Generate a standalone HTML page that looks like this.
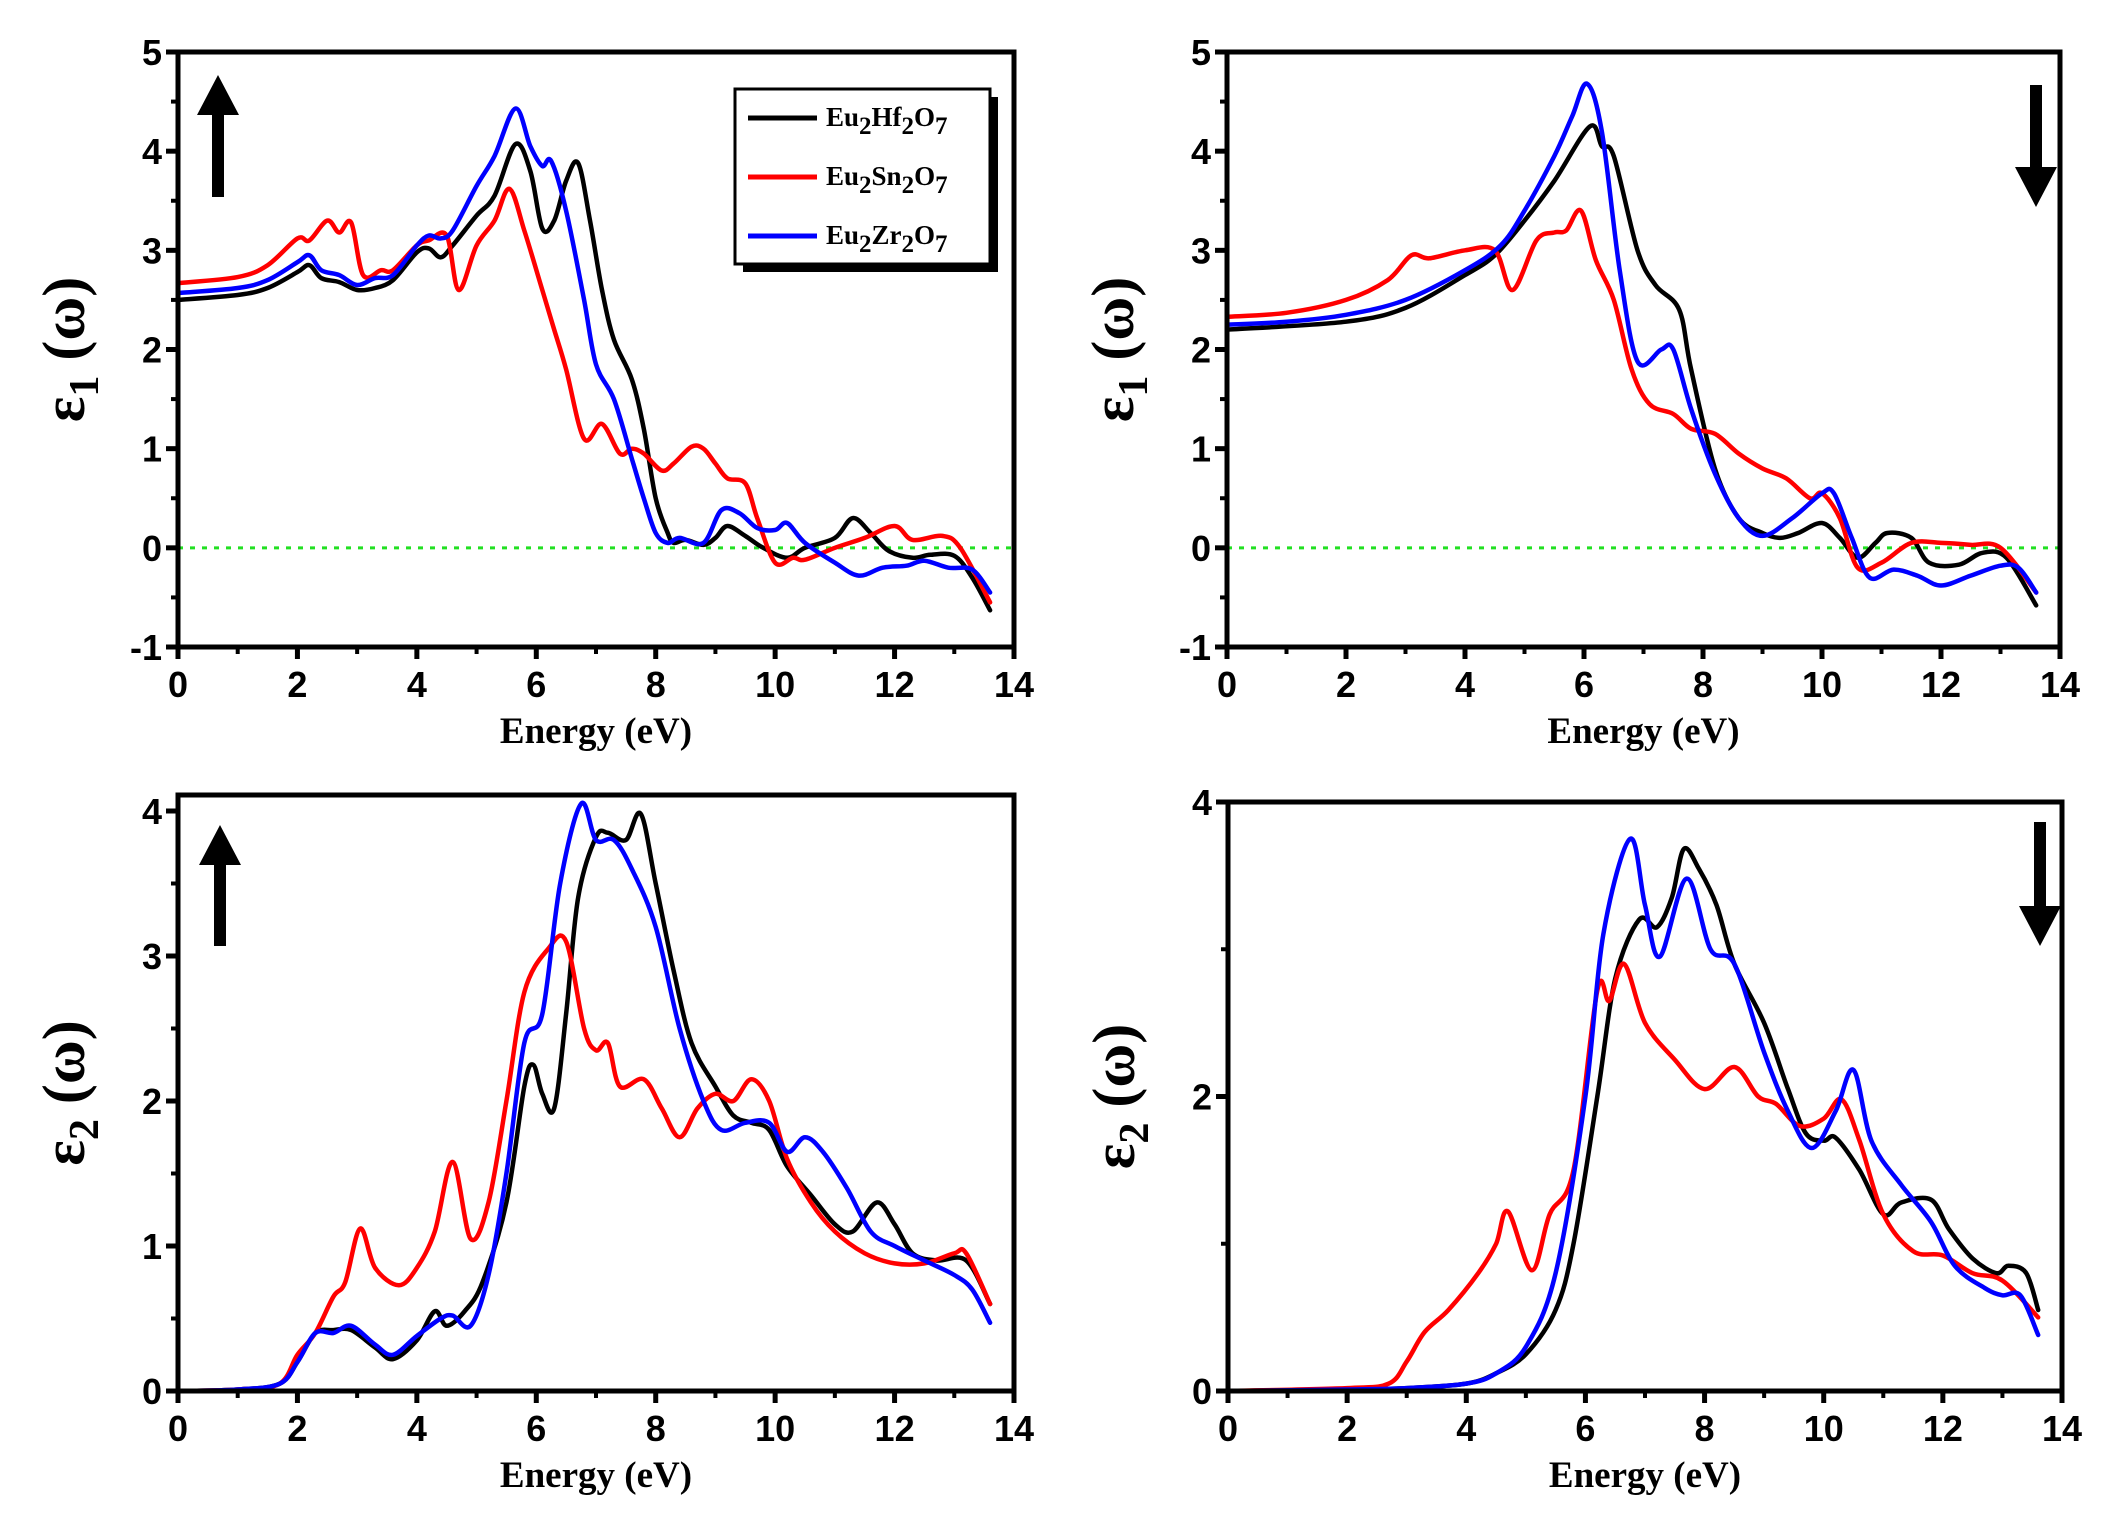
<!DOCTYPE html>
<html><head><meta charset="utf-8"><style>
html,body{margin:0;padding:0;background:#fff;}
svg{display:block;}
</style></head><body>
<svg id="fig" width="2125" height="1530" viewBox="0 0 2125 1530" xmlns="http://www.w3.org/2000/svg"></svg>
<script>
// ---- data (energy eV, value) ----
const p1Hf_x=[0,1,1.5,2,2.2,2.4,2.7,3,3.3,3.6,4,4.2,4.4,4.6,5,5.3,5.65,5.9,6.1,6.3,6.5,6.7,6.9,7.1,7.3,7.6,7.8,8.0,8.2,8.3,8.5,8.8,9.0,9.2,9.5,9.8,10.2,10.5,11,11.3,11.6,11.9,12.3,12.6,13,13.3,13.6];
const p1Hf_y=[2.5,2.55,2.62,2.78,2.85,2.72,2.68,2.6,2.62,2.7,2.98,3.02,2.93,3.05,3.35,3.55,4.07,3.8,3.22,3.3,3.7,3.88,3.3,2.6,2.1,1.7,1.2,0.5,0.15,0.05,0.08,0.03,0.1,0.22,0.12,0,-0.1,0,0.1,0.3,0.15,-0.03,-0.1,-0.07,-0.08,-0.3,-0.63];
const p1Sn_x=[0,1,1.5,2,2.2,2.5,2.7,2.9,3.1,3.4,3.6,4,4.2,4.5,4.7,5,5.3,5.55,5.8,6.1,6.3,6.5,6.8,7.1,7.4,7.6,7.8,8.1,8.3,8.6,8.8,9.0,9.2,9.5,9.7,10,10.3,10.5,11,11.5,12,12.3,12.8,13.1,13.6];
const p1Sn_y=[2.67,2.73,2.85,3.12,3.1,3.3,3.18,3.28,2.75,2.8,2.8,3.05,3.1,3.15,2.6,3.05,3.3,3.62,3.2,2.6,2.2,1.8,1.1,1.25,0.95,1.0,0.95,0.78,0.85,1.02,1.0,0.85,0.7,0.65,0.3,-0.15,-0.1,-0.12,0,0.1,0.22,0.08,0.12,0,-0.55];
const p1Zr_x=[0,1,1.5,2,2.2,2.4,2.7,3,3.3,3.6,4,4.2,4.4,4.6,5,5.3,5.65,5.9,6.1,6.25,6.5,6.8,7.0,7.3,7.6,7.8,8,8.2,8.4,8.8,9.1,9.4,9.7,10,10.2,10.5,11,11.4,11.8,12.2,12.5,12.9,13.3,13.6];
const p1Zr_y=[2.57,2.62,2.7,2.88,2.95,2.8,2.75,2.65,2.72,2.75,3.05,3.15,3.12,3.2,3.65,3.95,4.43,4.05,3.85,3.9,3.4,2.5,1.85,1.5,0.9,0.5,0.15,0.05,0.1,0.05,0.38,0.35,0.2,0.18,0.25,0.05,-0.15,-0.28,-0.2,-0.18,-0.13,-0.2,-0.22,-0.45];

const p2Hf_x=[0,2,3,4,4.5,5,5.5,6.1,6.3,6.5,6.9,7.2,7.6,7.8,8.2,8.6,9,9.3,9.6,10,10.3,10.6,10.9,11.1,11.5,11.8,12.3,12.7,13.1,13.6];
const p2Hf_y=[2.2,2.28,2.42,2.75,2.95,3.3,3.7,4.25,4.05,3.95,3.0,2.65,2.4,1.8,0.8,0.3,0.15,0.1,0.15,0.25,0.1,-0.1,0.05,0.15,0.1,-0.15,-0.17,-0.05,-0.1,-0.58];
const p2Sn_x=[0,1,2,2.7,3.1,3.4,4,4.5,4.8,5.2,5.5,5.7,5.95,6.2,6.5,6.8,7.1,7.5,7.8,8.2,8.6,9,9.4,9.8,10.0,10.3,10.6,11,11.5,12,12.5,13,13.6];
const p2Sn_y=[2.33,2.37,2.5,2.7,2.95,2.92,3.0,3.0,2.6,3.1,3.18,3.2,3.4,2.9,2.5,1.8,1.45,1.35,1.2,1.15,0.95,0.8,0.7,0.5,0.55,0.3,-0.2,-0.15,0.05,0.05,0.03,0.0,-0.45];
const p2Zr_x=[0,1,2,3,4,4.6,5,5.5,5.8,6.05,6.3,6.6,6.9,7.3,7.5,7.8,8.2,8.6,9.0,9.5,10,10.2,10.5,10.8,11.2,11.6,12,12.5,13,13.3,13.6];
const p2Zr_y=[2.25,2.28,2.35,2.5,2.8,3.05,3.4,3.95,4.35,4.68,4.2,2.8,1.88,2.0,2.0,1.4,0.75,0.3,0.12,0.3,0.55,0.55,0.1,-0.3,-0.22,-0.28,-0.38,-0.28,-0.18,-0.2,-0.45];

const p3Hf_x=[0,1,1.7,2,2.3,2.6,2.9,3.3,3.6,4,4.3,4.5,4.8,5.1,5.5,5.8,5.95,6.1,6.3,6.5,6.7,7,7.2,7.5,7.75,8,8.3,8.6,9,9.3,9.6,9.9,10.2,10.6,11,11.3,11.7,12,12.3,12.7,13.2,13.6];
const p3Hf_y=[0,0.01,0.05,0.2,0.4,0.42,0.42,0.3,0.22,0.35,0.55,0.45,0.55,0.75,1.3,2.1,2.25,2.05,1.95,2.6,3.4,3.82,3.85,3.8,3.98,3.5,2.9,2.4,2.1,1.9,1.85,1.8,1.55,1.35,1.15,1.1,1.3,1.15,0.95,0.9,0.9,0.6];
const p3Sn_x=[0,1,1.7,2,2.3,2.6,2.8,3.05,3.3,3.7,4,4.3,4.6,4.9,5.2,5.5,5.8,6.2,6.5,6.8,7.0,7.2,7.4,7.8,8.1,8.4,8.7,9.0,9.3,9.6,9.9,10.2,10.6,11,11.5,12,12.5,13,13.2,13.6];
const p3Sn_y=[0,0.01,0.05,0.25,0.4,0.65,0.75,1.12,0.85,0.73,0.85,1.1,1.58,1.05,1.3,2.0,2.75,3.05,3.1,2.5,2.35,2.4,2.1,2.15,1.95,1.75,1.95,2.05,2.0,2.15,2.0,1.6,1.3,1.1,0.95,0.88,0.88,0.95,0.95,0.6];
const p3Zr_x=[0,1,1.7,2,2.3,2.6,2.9,3.3,3.6,4,4.4,4.6,4.9,5.2,5.5,5.8,6.1,6.4,6.75,7.0,7.3,7.6,8,8.4,8.8,9.1,9.5,9.9,10.2,10.5,10.8,11.2,11.6,12,12.5,13,13.3,13.6];
const p3Zr_y=[0,0.01,0.05,0.2,0.4,0.4,0.45,0.32,0.25,0.38,0.5,0.52,0.45,0.8,1.5,2.4,2.6,3.5,4.05,3.8,3.8,3.6,3.2,2.5,2.0,1.8,1.85,1.85,1.65,1.75,1.65,1.4,1.1,1.0,0.9,0.8,0.7,0.47];

const p4Hf_x=[0,2,3,4,4.5,5,5.5,5.8,6.2,6.5,6.9,7.2,7.45,7.65,7.9,8.2,8.5,9,9.4,9.7,10,10.2,10.6,11,11.3,11.8,12.1,12.5,12.9,13.1,13.4,13.6];
const p4Hf_y=[0,0.01,0.02,0.05,0.12,0.25,0.55,1.0,2.0,2.8,3.2,3.15,3.35,3.68,3.55,3.3,2.9,2.5,2.05,1.75,1.7,1.72,1.5,1.2,1.28,1.3,1.1,0.9,0.8,0.85,0.8,0.55];
const p4Sn_x=[0,2,2.7,3,3.3,3.7,4.2,4.5,4.7,5.1,5.4,5.8,6.2,6.4,6.65,7.0,7.5,8,8.5,8.9,9.2,9.6,10,10.3,10.6,11,11.5,12,12.5,13,13.6];
const p4Sn_y=[0,0.02,0.05,0.2,0.4,0.55,0.8,1.0,1.22,0.82,1.2,1.5,2.72,2.65,2.9,2.5,2.25,2.05,2.2,2.0,1.95,1.8,1.85,1.98,1.7,1.2,0.95,0.92,0.8,0.75,0.5];
const p4Zr_x=[0,2,3,4,4.5,5,5.5,6.0,6.3,6.75,7.0,7.25,7.7,8.1,8.5,9,9.4,9.8,10.2,10.5,10.8,11.3,11.8,12.2,12.7,13.0,13.3,13.6];
const p4Zr_y=[0,0.01,0.02,0.05,0.12,0.3,0.8,2.0,3.1,3.75,3.3,2.95,3.48,3.0,2.9,2.3,1.9,1.65,1.9,2.18,1.7,1.4,1.15,0.85,0.7,0.65,0.65,0.38];

const xTicks=[0,2,4,6,8,10,12,14];
const yTicksE1=[-1,0,1,2,3,4,5];
const yTicksP3=[0,1,2,3,4];
const yTicksP4=[0,2,4];
const seriesNames=["Eu2Hf2O7","Eu2Sn2O7","Eu2Zr2O7"];
const colors=["#000000","#ff0000","#0000ff"];

const NS="http://www.w3.org/2000/svg";
const svg=document.getElementById('fig');
function el(tag,attrs,parent){const e=document.createElementNS(NS,tag);for(const k in attrs)e.setAttribute(k,attrs[k]);(parent||svg).appendChild(e);return e;}

function smoothPath(pts){
  let d="M"+pts[0][0].toFixed(1)+","+pts[0][1].toFixed(1);
  for(let i=0;i<pts.length-1;i++){
    const p0=pts[Math.max(0,i-1)],p1=pts[i],p2=pts[i+1],p3=pts[Math.min(pts.length-1,i+2)];
    const c1=[p1[0]+(p2[0]-p0[0])/6,p1[1]+(p2[1]-p0[1])/6];
    const c2=[p2[0]-(p3[0]-p1[0])/6,p2[1]-(p3[1]-p1[1])/6];
    d+="C"+c1[0].toFixed(1)+","+c1[1].toFixed(1)+" "+c2[0].toFixed(1)+","+c2[1].toFixed(1)+" "+p2[0].toFixed(1)+","+p2[1].toFixed(1);
  }
  return d;
}

function panel(cfg){
  const g=el('g',{});
  
  
  const X=v=>cfg.x0+(v-0)/14*(cfg.x1-cfg.x0);
  const Y=v=>cfg.yb-(v-cfg.ymin)/(cfg.ymax-cfg.ymin)*(cfg.yb-cfg.yt);
  const top=cfg.boxTop!==undefined?cfg.boxTop:cfg.yt;
  if(cfg.zero){
    const z=el('line',{x1:cfg.x0,x2:cfg.x1,y1:Y(0),y2:Y(0),stroke:'#22e022','stroke-width':3,'stroke-dasharray':'5,7'},g);
    
    
  }
  cfg.s.forEach((s,i)=>{
    const pts=s[0].map((xv,j)=>[X(xv),Y(s[1][j])]);
    const p=el('path',{d:smoothPath(pts),fill:'none',stroke:colors[i],'stroke-width':4.5,'stroke-linejoin':'round','stroke-linecap':'round'},g);
    
    
  });
  const fr=el('rect',{x:cfg.x0,y:top,width:cfg.x1-cfg.x0,height:cfg.yb-top,fill:'none',stroke:'#000','stroke-width':5},g);
  
  
  for(let v=0;v<=14;v++){
    const major=v%2===0;
    el('line',{x1:X(v),x2:X(v),y1:cfg.yb,y2:cfg.yb+(major?12:7),stroke:'#000','stroke-width':major?5:4},g);
  }
  xTicks.forEach(v=>{
    const t=el('text',{x:X(v),y:cfg.yb+50,'text-anchor':'middle','font-family':'Liberation Sans, Arial, sans-serif','font-weight':'bold','font-size':36},g);
    t.textContent=v;
    
    
  });
  const step=cfg.yticks[1]-cfg.yticks[0];
  for(let v=cfg.ymin;v<=cfg.ymax+1e-9;v+=step/2){
    const major=Math.abs((v-cfg.yticks[0])/step-Math.round((v-cfg.yticks[0])/step))<1e-6;
    el('line',{x1:cfg.x0,x2:cfg.x0-(major?12:7),y1:Y(v),y2:Y(v),stroke:'#000','stroke-width':major?5:4},g);
  }
  cfg.yticks.forEach(v=>{
    const t=el('text',{x:cfg.x0-16,y:Y(v)+13,'text-anchor':'end','font-family':'Liberation Sans, Arial, sans-serif','font-weight':'bold','font-size':36},g);
    t.textContent=v;
    
    
  });
  const xt=el('text',{x:(cfg.x0+cfg.x1)/2,y:cfg.yb+96,'text-anchor':'middle','font-family':'Liberation Serif, Times New Roman, serif','font-weight':'bold','font-size':37},g);
  xt.textContent='Energy (eV)';
  
  
  const cy=(top+cfg.yb)/2;
  const yt=el('text',{x:0,y:0,transform:`translate(${cfg.x0-94},${cy}) rotate(-90)`,'text-anchor':'middle','font-family':'Liberation Serif, Times New Roman, serif','font-weight':'bold','font-size':60},g);
  yt.innerHTML=`ε<tspan font-size="42" dy="14">${cfg.sub}</tspan><tspan dy="-14"> (ω)</tspan>`;
  
  
  const ax=cfg.arrow[0],a1=cfg.arrow[1],a2=cfg.arrow[2],up=cfg.arrow[3];
  let d;
  if(up){d=`M${ax-6},${a2} L${ax-6},${a1+40} L${ax-21},${a1+40} L${ax},${a1} L${ax+21},${a1+40} L${ax+6},${a1+40} L${ax+6},${a2} Z`;}
  else{d=`M${ax-6},${a1} L${ax-6},${a2-40} L${ax-21},${a2-40} L${ax},${a2} L${ax+21},${a2-40} L${ax+6},${a2-40} L${ax+6},${a1} Z`;}
  const ar=el('path',{d:d,fill:'#000'},g);
  
  
}

panel({name:'panel-eps1-spin-up',x0:178,x1:1014,yt:52,yb:647,ymin:-1,ymax:5,yticks:yTicksE1,zero:true,sub:'1',
  s:[[p1Hf_x,p1Hf_y],[p1Sn_x,p1Sn_y],[p1Zr_x,p1Zr_y]],arrow:[218,75,197,true]});
panel({name:'panel-eps1-spin-down',x0:1227,x1:2060,yt:52,yb:647,ymin:-1,ymax:5,yticks:yTicksE1,zero:true,sub:'1',
  s:[[p2Hf_x,p2Hf_y],[p2Sn_x,p2Sn_y],[p2Zr_x,p2Zr_y]],arrow:[2036,85,207,false]});
panel({name:'panel-eps2-spin-up',x0:178,x1:1014,yt:811,yb:1391,boxTop:795,ymin:0,ymax:4,yticks:yTicksP3,zero:false,sub:'2',
  s:[[p3Hf_x,p3Hf_y],[p3Sn_x,p3Sn_y],[p3Zr_x,p3Zr_y]],arrow:[220,825,946,true]});
panel({name:'panel-eps2-spin-down',x0:1228,x1:2062,yt:802,yb:1391,ymin:0,ymax:4,yticks:yTicksP4,zero:false,sub:'2',
  s:[[p4Hf_x,p4Hf_y],[p4Sn_x,p4Sn_y],[p4Zr_x,p4Zr_y]],arrow:[2040,822,946,false]});

const lg=el('g',{});


el('rect',{x:743,y:97,width:255,height:175,fill:'#000'},lg);
el('rect',{x:735,y:89,width:255,height:175,fill:'#fff',stroke:'#000','stroke-width':3},lg);
const legendLabels=[['Eu','2','Hf','2','O','7'],['Eu','2','Sn','2','O','7'],['Eu','2','Zr','2','O','7']];
legendLabels.forEach((parts,i)=>{
  const yy=118+i*59;
  const ln=el('line',{x1:748,x2:817,y1:yy,y2:yy,stroke:colors[i],'stroke-width':5},lg);
  
  
  const t=el('text',{x:826,y:yy+8,'font-family':'Liberation Serif, Times New Roman, serif','font-weight':'bold','font-size':27},lg);
  t.innerHTML=`${parts[0]}<tspan dy="8" font-size="25">${parts[1]}</tspan><tspan dy="-8">${parts[2]}</tspan><tspan dy="8" font-size="25">${parts[3]}</tspan><tspan dy="-8">${parts[4]}</tspan><tspan dy="8" font-size="25">${parts[5]}</tspan>`;
  
  
});
</script>
</body></html>
